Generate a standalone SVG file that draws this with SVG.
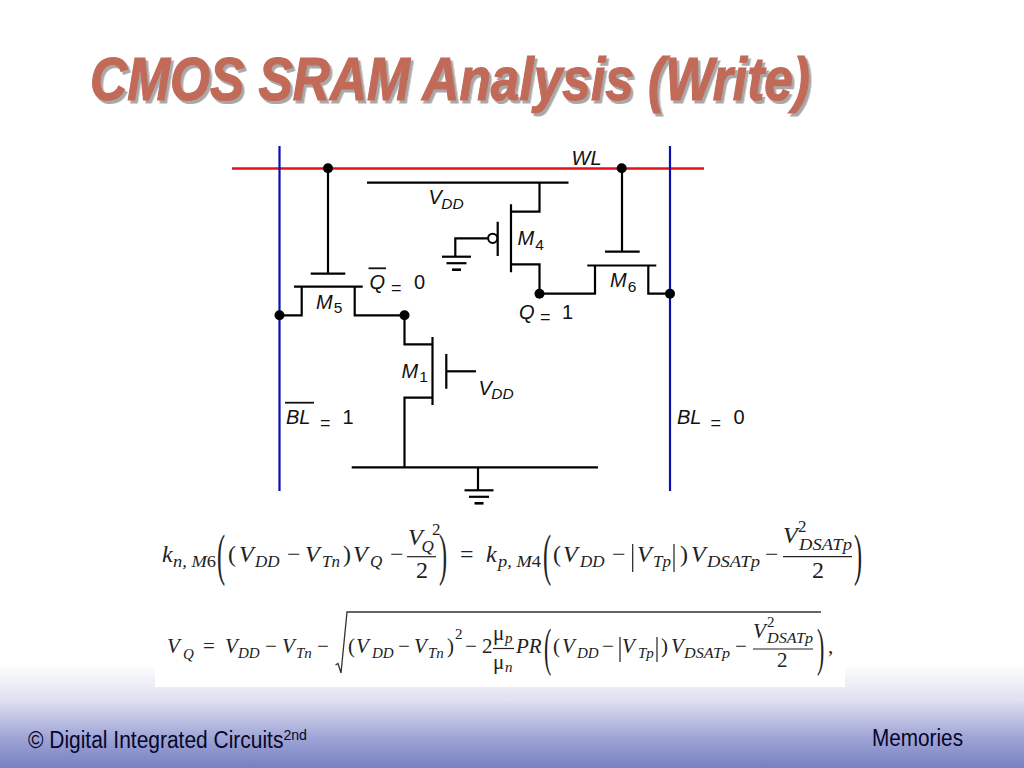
<svg xmlns="http://www.w3.org/2000/svg" width="1024" height="768" viewBox="0 0 1024 768">
<style>
.w{fill:none;stroke:#000;stroke-width:2.2}
.l{font-family:"Liberation Sans",Arial,sans-serif;font-size:20px;font-style:italic;fill:#111}
.s{font-size:15.500px}
.u{font-style:normal}
.e{font-size:18px;font-style:normal}
.m{font-family:"Liberation Serif","Times New Roman",serif;font-size:24px;font-style:italic;fill:#222}
.ms{font-size:17px}
.n{font-style:normal}
.m2{font-size:21px}
.ms2{font-size:15px}
.big{font-family:"Liberation Serif","Times New Roman",serif;font-size:58px;fill:#222;font-weight:normal}
.big2{font-size:52px}
.f{stroke:#222;stroke-width:1.2;fill:none}
.title{font-family:"Liberation Sans",Arial,sans-serif;font-size:61px;font-weight:bold;font-style:italic;fill:#c26a59;stroke:#c26a59;stroke-width:1.200px;filter:url(#ts)}
.foot{font-family:"Liberation Sans",Arial,sans-serif;fill:#060628}
</style>
<defs>
<linearGradient id="bg" x1="0" y1="0" x2="0" y2="1">
<stop offset="0" stop-color="#ffffff"/>
<stop offset="0.35" stop-color="#dfe0f1"/>
<stop offset="0.7" stop-color="#a0a6d7"/>
<stop offset="1" stop-color="#7780c2"/>
</linearGradient>
<filter id="ts" x="-2%" y="-10%" width="104%" height="125%">
<feDropShadow dx="2.500" dy="3" stdDeviation="0.500" flood-color="#a8a8a8"/>
</filter>
<g id="gnd" class="w"><path d="M-14.500 0H14.500"/><path d="M-10 6.500H10" /><path d="M-4.500 13H4.500" stroke-width="2.600"/></g>
</defs>
<rect width="1024" height="768" fill="#fff"/>
<rect id="footer-band" y="664" width="1024" height="104" fill="url(#bg)"/>
<rect id="equation-panel" x="155" y="520" width="690" height="167" fill="#fff"/>
<g id="title">
<text class="title" x="90" y="100" textLength="720" lengthAdjust="spacingAndGlyphs">CMOS SRAM Analysis (Write)</text>
</g>
<g id="connectors">
<path d="M232 168.500H704" fill="none" stroke="#e8101c" stroke-width="2.400"/>
<path d="M279.500 146V491M670 146V491" fill="none" stroke="#0a10b0" stroke-width="2.200"/>
<path class="w" d="M328 168V274"/>
<path class="w" d="M622 168V252"/>
<path class="w" d="M367 182.700H568.500"/>
<path class="w" d="M539.500 182.700V211.700H511M511 264.300H539.500V293.700H595V265.500"/>
<path class="w" d="M648.300 265.500V293.700H670"/>
<path class="w" d="M280 315.300H301.700V287M354.700 287V315.300H404.500V344.300H432.500"/>
<path class="w" d="M432.500 397.700H404.500V467.300"/>
<path class="w" d="M351.700 467.300H598M478 467.300V490"/>
<path class="w" d="M446.300 371.300H476"/>
<path class="w" d="M487.700 238.300H455.300V256.700"/>
<path class="w" d="M310.700 273.700H345.300M294 286.700H362.700"/>
<path class="w" d="M605 251.700H639.700M587.300 265.500H656.300"/>
</g>
<g id="M5"><text class="l" x="316" y="308.500">M<tspan class="s u" dy="4.500" dx="1">5</tspan></text></g>
<g id="M6"><text class="l" x="610" y="287">M<tspan class="s u" dy="4.500" dx="1">6</tspan></text></g>
<g id="M4">
<path class="w" d="M511 204.300V272.300M497.700 221.700V256"/>
<circle cx="492.700" cy="238.300" r="4.600" fill="#fff" stroke="#000" stroke-width="2"/>
<text class="l" x="517.500" y="245">M<tspan class="s u" dy="4.500" dx="1">4</tspan></text>
</g>
<g id="M1">
<path class="w" d="M432.500 337V405M446.300 354V388.700"/>
<text class="l" x="401.500" y="377.700">M<tspan class="s u" dy="4" dx="1">1</tspan></text>
</g>
<g id="ground-top"><use href="#gnd" x="456.500" y="256.700"/></g>
<g id="ground-bottom"><use href="#gnd" x="479" y="490.300"/></g>
<g id="junctions">
<circle cx="328" cy="168.300" r="5"/>
<circle cx="621.700" cy="168.300" r="5"/>
<circle cx="279.500" cy="315.300" r="5"/>
<circle cx="404.500" cy="315.300" r="5"/>
<circle cx="539.500" cy="293.700" r="5"/>
<circle cx="670" cy="293.700" r="5"/>
</g>
<g id="labels">
<text class="l" x="571.500" y="164.500">WL</text>
<text class="l" x="428.500" y="204">V<tspan class="s" dy="4.500" dx="-0.500">DD</tspan></text>
<text class="l" x="478.500" y="394.500">V<tspan class="s" dy="4.500" dx="-0.500">DD</tspan></text>
<text class="l" x="369.500" y="288.500">Q</text>
<path d="M368.500 268.300H386" stroke="#111" stroke-width="1.800"/>
<text class="l e" x="391" y="293.500">=</text>
<text class="l u" x="414" y="288.500">0</text>
<text class="l" x="519" y="318.500">Q</text>
<text class="l e" x="540" y="323">=</text>
<text class="l u" x="562" y="318.500">1</text>
<text class="l" x="286" y="424">BL</text>
<path d="M285 402.700H314" stroke="#111" stroke-width="1.800"/>
<text class="l e" x="320" y="429">=</text>
<text class="l u" x="342.500" y="424">1</text>
<text class="l" x="677" y="424">BL</text>
<text class="l e" x="710.500" y="429">=</text>
<text class="l u" x="733.500" y="424">0</text>
</g>
<g id="equation-1">
<text class="m" x="162" y="562">k</text>
<text class="m ms" x="173" y="567" textLength="43" lengthAdjust="spacingAndGlyphs">n, M<tspan class="n">6</tspan></text>
<text class="big" transform="translate(217 574) scale(.42 1)">(</text>
<text class="m n" x="228" y="562">(</text>
<text class="m" x="239" y="562">V</text>
<text class="m ms" x="255" y="567">DD</text>
<text class="m n" x="287" y="562">−</text>
<text class="m" x="305" y="562">V</text>
<text class="m ms" x="322" y="567">Tn</text>
<text class="m n" x="343" y="562">)</text>
<text class="m" x="353" y="562">V</text>
<text class="m ms" x="370" y="567">Q</text>
<text class="m n" x="390" y="562">−</text>
<text class="m" x="408" y="545">V</text>
<text class="m ms" x="421.500" y="552">Q</text>
<text class="m n ms" x="432" y="535">2</text>
<path class="f" d="M407 556.700H436"/>
<text class="m n" x="416" y="578">2</text>
<text class="big" transform="translate(439 574) scale(.42 1)">)</text>
<text class="m n" x="460" y="562">=</text>
<text class="m" x="486" y="562">k</text>
<text class="m ms" x="498" y="567" textLength="43" lengthAdjust="spacingAndGlyphs">p, M<tspan class="n">4</tspan></text>
<text class="big" transform="translate(543 574) scale(.42 1)">(</text>
<text class="m n" x="553" y="562">(</text>
<text class="m" x="563" y="562">V</text>
<text class="m ms" x="580" y="567">DD</text>
<text class="m n" x="612" y="562">−</text>
<path class="f" d="M632.700 544V572M674 544V572"/>
<text class="m" x="637" y="562">V</text>
<text class="m ms" x="653" y="567">Tp</text>
<text class="m n" x="680" y="562">)</text>
<text class="m" x="691" y="562">V</text>
<text class="m ms" x="707" y="567" textLength="53" lengthAdjust="spacingAndGlyphs">DSATp</text>
<text class="m n" x="765" y="562">−</text>
<text class="m" x="783" y="543">V</text>
<text class="m n ms" x="798" y="532">2</text>
<text class="m ms" x="799" y="550" textLength="53" lengthAdjust="spacingAndGlyphs">DSATp</text>
<path class="f" d="M783 556.700H852"/>
<text class="m n" x="812" y="578">2</text>
<text class="big" transform="translate(854 574) scale(.42 1)">)</text>
</g>
<g id="equation-2">
<text class="m m2" x="167" y="653">V</text>
<text class="m ms2" x="183" y="659">Q</text>
<text class="m n m2" x="203" y="653">=</text>
<text class="m m2" x="225" y="653">V</text>
<text class="m ms2" x="238" y="658">DD</text>
<text class="m n m2" x="265" y="653">−</text>
<text class="m m2" x="282" y="653">V</text>
<text class="m ms2" x="296" y="658">Tn</text>
<text class="m n m2" x="317" y="653">−</text>
<path d="M335.500 665L338 663.500L341 673L347 612H821" fill="none" stroke="#333" stroke-width="1.300"/>
<text class="m n m2" x="348" y="653">(</text>
<text class="m m2" x="356" y="653">V</text>
<text class="m ms2" x="372" y="658">DD</text>
<text class="m n m2" x="398" y="653">−</text>
<text class="m m2" x="414" y="653">V</text>
<text class="m ms2" x="428" y="658">Tn</text>
<text class="m n m2" x="447" y="653">)</text>
<text class="m n ms2" x="455" y="639">2</text>
<text class="m n m2" x="465" y="653">−</text>
<text class="m n m2" x="482" y="653">2</text>
<text class="m n m2" x="493" y="640">μ</text>
<text class="m ms2" x="505" y="643">p</text>
<path class="f" d="M493 648.500H514"/>
<text class="m n m2" x="493" y="669">μ</text>
<text class="m ms2" x="505" y="672">n</text>
<text class="m m2" x="516" y="653">PR</text>
<text class="big big2" transform="translate(544 665) scale(.42 1)">(</text>
<text class="m n m2" x="553" y="653">(</text>
<text class="m m2" x="562" y="653">V</text>
<text class="m ms2" x="577" y="658">DD</text>
<text class="m n m2" x="602" y="653">−</text>
<path class="f" d="M620 637V662M657 637V662"/>
<text class="m m2" x="622" y="653">V</text>
<text class="m ms2" x="638" y="658">Tp</text>
<text class="m n m2" x="661" y="653">)</text>
<text class="m m2" x="671" y="653">V</text>
<text class="m ms2" x="684" y="658" textLength="46" lengthAdjust="spacingAndGlyphs">DSATp</text>
<text class="m n m2" x="735" y="653">−</text>
<text class="m m2" x="753" y="638">V</text>
<text class="m n ms2" x="767" y="627">2</text>
<text class="m ms2" x="767" y="643" textLength="46" lengthAdjust="spacingAndGlyphs">DSATp</text>
<path class="f" d="M753 649H813"/>
<text class="m n m2" x="777" y="667">2</text>
<text class="big big2" transform="translate(817 665) scale(.42 1)">)</text>
<text class="m n m2" x="828" y="653">,</text>
</g>
<g id="footer">
<text class="foot" x="28" y="748" font-size="23" textLength="279" lengthAdjust="spacingAndGlyphs">© Digital Integrated Circuits<tspan font-size="15.500" dy="-8">2nd</tspan></text>
<text class="foot" x="872" y="746" font-size="23" textLength="91" lengthAdjust="spacingAndGlyphs">Memories</text>
</g>
</svg>
